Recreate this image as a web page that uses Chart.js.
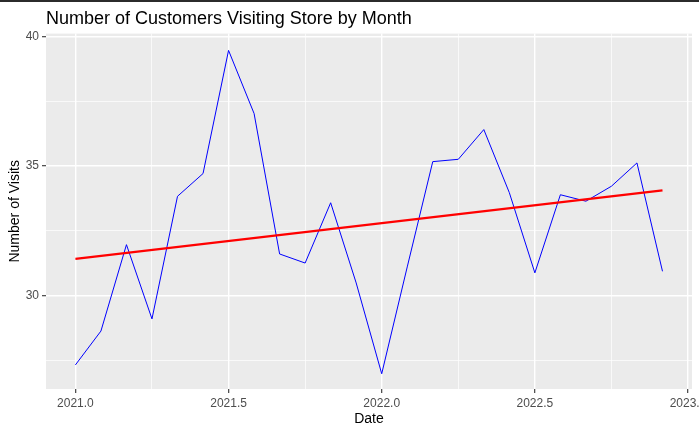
<!DOCTYPE html>
<html>
<head>
<meta charset="utf-8">
<script src="https://cdn.jsdelivr.net/npm/chart.js@4.4.0/dist/chart.umd.min.js"></script>
<style>
    html, body { margin: 0; padding: 0; background: #ffffff; }
    #wrap { position: relative; width: 699px; height: 432px; }
    #topbar { position: absolute; left: 0; top: 0; width: 699px; height: 2px; background: #2b2b2b; }
</style>
</head>
<body>
<div id="wrap">
    <canvas id="visitChart" width="699" height="432"></canvas>
    <div id="topbar"></div>
</div>
<script>
// monthly visits
const months = [
    '2021-01', '2021-02', '2021-03', '2021-04', '2021-05', '2021-06',
    '2021-07', '2021-08', '2021-09', '2021-10', '2021-11', '2021-12',
    '2022-01', '2022-02', '2022-03', '2022-04', '2022-05', '2022-06',
    '2022-07', '2022-08', '2022-09', '2022-10', '2022-11', '2022-12'
];
const visits = [
    27.31, 28.62, 31.96, 29.09, 33.83, 34.71,
    39.47, 37.03, 31.60, 31.25, 33.58, 30.48,
    26.97, 31.10, 35.17, 35.26, 36.41, 33.97,
    30.87, 33.89, 33.64, 34.22, 35.12, 30.93
];

// linear trend (geom_smooth lm) end points
const trendMonths = ['2021-01', '2022-12'];
const trendValues = [31.41, 34.06];

const xTicks = [2021, 2021.25, 2021.5, 2021.75, 2022, 2022.25, 2022.5, 2022.75, 2023];
const xMajor = [2021, 2021.5, 2022, 2022.5, 2023];
const yTicks = [27.5, 30, 32.5, 35, 37.5, 40];
const yMajor = [30, 35, 40];

const FONT = "'Liberation Sans', Arial, sans-serif";

function toYear(m) {
    const [y, mo] = m.split('-').map(Number);
    return y + (mo - 1) / 12;
}

function isMajor(list, v) {
    return list.some(t => Math.abs(t - v) < 1e-6);
}

const visitPoints = months.map((m, i) => ({ x: toYear(m), y: visits[i] }));
const trendPoints = trendMonths.map((m, i) => ({ x: toYear(m), y: trendValues[i] }));

const panelBg = {
    id: 'panelBg',
    beforeDraw(chart) {
        const { ctx, chartArea: a } = chart;
        ctx.save();
        ctx.fillStyle = '#EBEBEB';
        ctx.fillRect(a.left, a.top, a.right - a.left, a.bottom - a.top);
        ctx.restore();
    }
};

const ctx = document.getElementById('visitChart').getContext('2d');

const visitChart = new Chart(ctx, {
    type: 'line',
    data: {
        datasets: [{
            label: 'Trend',
            data: trendPoints,
            borderColor: '#FF0000',
            borderWidth: 2.2,
            pointRadius: 0,
            tension: 0,
            order: 0
        }, {
            label: 'Visits',
            data: visitPoints,
            borderColor: '#0000FF',
            borderWidth: 1,
            pointRadius: 0,
            tension: 0,
            order: 1
        }]
    },
    options: {
        responsive: false,
        animation: false,
        layout: { padding: { left: 0, right: 7, top: 0, bottom: 0 } },
        plugins: {
            legend: { display: false },
            tooltip: { enabled: false },
            title: {
                display: true,
                text: 'Number of Customers Visiting Store by Month',
                align: 'start',
                fullSize: false,
                color: '#000000',
                font: { family: FONT, size: 18, weight: 'normal' },
                padding: { top: 8, bottom: 4 }
            }
        },
        scales: {
            x: {
                type: 'linear',
                min: 2020.904,
                max: 2023.013,
                afterBuildTicks: scale => { scale.ticks = xTicks.map(v => ({ value: v })); },
                afterFit: scale => {
                    scale.height = 43;
                    scale.paddingLeft = 0;
                    scale.paddingRight = 0;
                },
                border: { display: false },
                grid: {
                    color: '#FFFFFF',
                    lineWidth: c => isMajor(xMajor, c.tick.value) ? 1.4 : 0.7,
                    tickColor: c => isMajor(xMajor, c.tick.value) ? '#333333' : 'rgba(0,0,0,0)',
                    tickWidth: 1.1,
                    tickLength: 4
                },
                ticks: {
                    autoSkip: false,
                    maxRotation: 0,
                    padding: 3,
                    color: '#4D4D4D',
                    font: { family: FONT, size: 12 },
                    callback: v => isMajor(xMajor, v) ? v.toFixed(1) : ''
                },
                title: {
                    display: true,
                    text: 'Date',
                    color: '#000000',
                    font: { family: FONT, size: 14 },
                    padding: { top: 0, bottom: 4 }
                }
            },
            y: {
                min: 26.38,
                max: 40.12,
                afterBuildTicks: scale => { scale.ticks = yTicks.map(v => ({ value: v })); },
                afterFit: scale => {
                    scale.width = 46;
                    scale.paddingTop = 0;
                    scale.paddingBottom = 0;
                },
                border: { display: false },
                grid: {
                    color: '#FFFFFF',
                    lineWidth: c => isMajor(yMajor, c.tick.value) ? 1.4 : 0.7,
                    tickColor: c => isMajor(yMajor, c.tick.value) ? '#333333' : 'rgba(0,0,0,0)',
                    tickWidth: 1.1,
                    tickLength: 4
                },
                ticks: {
                    autoSkip: false,
                    padding: 3,
                    color: '#4D4D4D',
                    font: { family: FONT, size: 12 },
                    callback: v => isMajor(yMajor, v) ? String(v) : ''
                },
                title: {
                    display: true,
                    text: 'Number of Visits',
                    color: '#000000',
                    font: { family: FONT, size: 14 },
                    padding: { top: 7, bottom: 0 }
                }
            }
        }
    },
    plugins: [panelBg]
});
</script>
</body>
</html>
